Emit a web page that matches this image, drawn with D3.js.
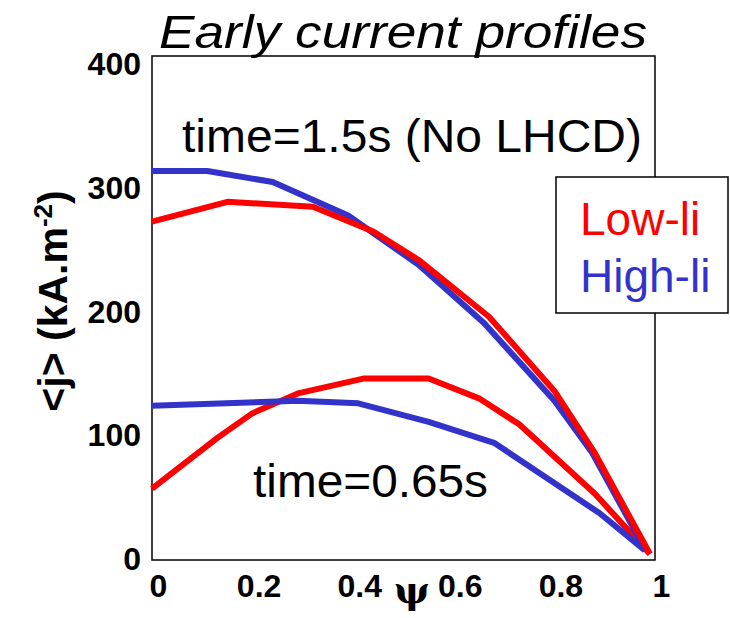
<!DOCTYPE html>
<html>
<head>
<meta charset="utf-8">
<script src="https://cdn.jsdelivr.net/npm/d3@7/dist/d3.min.js"></script>
<style>
  body { margin: 0; background: #fff; }
  svg { font-family: "Liberation Sans", Arial, sans-serif; }
</style>
</head>
<body>
<svg id="chart" width="730" height="618"></svg>
<script>
// data: psi vs <j> (kA/m^2)
const psiLow15  = [0, 0.15, 0.32, 0.44, 0.53, 0.67, 0.80, 0.88, 0.99];
const jLow15    = [273, 289, 285, 265, 242, 196, 136, 86, 4];
const psiHigh15 = [0, 0.11, 0.24, 0.39, 0.53, 0.66, 0.80, 0.875, 0.98];
const jHigh15   = [314, 314, 305, 278, 238, 191, 128, 86, 8];
const psiLow065  = [0, 0.13, 0.20, 0.29, 0.42, 0.55, 0.65, 0.73, 0.88, 0.99];
const jLow065    = [57, 98, 118, 134, 146, 146, 130, 109, 53, 4];
const psiHigh065 = [0, 0.29, 0.41, 0.55, 0.68, 0.89, 0.98];
const jHigh065   = [124, 128, 126, 111, 94, 37, 7];

const xTicks = [0, 0.2, 0.4, 0.6, 0.8, 1];
const yTicks = [0, 100, 200, 300, 400];
const legendNames = ["Low-li", "High-li"];

const RED = "#ff0000", BLUE = "#3333cc";

const svg = d3.select("#chart");
const L = 152, R = 655, T = 56, B = 559;

const x = d3.scaleLinear().domain([0, 1]).range([L, R]);
const y = d3.scaleLinear().domain([0, 407]).range([B, T]);

// frame
svg.append("rect")
  .attr("x", L).attr("y", T).attr("width", R - L).attr("height", B - T + 1)
  .attr("fill", "none").attr("stroke", "#000").attr("stroke-width", 1.5);

// lines
const line = d3.line().x(d => x(d[0])).y(d => y(d[1]));
const series = [
  [psiLow065, jLow065, RED],
  [psiHigh065, jHigh065, BLUE],
  [psiHigh15, jHigh15, BLUE],
  [psiLow15, jLow15, RED]
];
series.forEach(s => {
  svg.append("path")
    .datum(d3.zip(s[0], s[1]))
    .attr("fill", "none")
    .attr("stroke", s[2])
    .attr("stroke-width", 6)
    .attr("stroke-linejoin", "round")
    .attr("d", line);
});

// axes (labels only, no tick marks)
const yAxis = svg.append("g")
  .attr("transform", "translate(" + (L - 11) + ",0)")
  .call(d3.axisLeft(y).tickValues(yTicks).tickSize(0).tickPadding(0));
yAxis.select(".domain").remove();
yAxis.selectAll("text")
  .attr("font-family", "Liberation Sans, Arial, sans-serif")
  .attr("font-size", 32).attr("font-weight", "bold").attr("fill", "#000");

const xAxis = svg.append("g")
  .attr("transform", "translate(6," + (B + 15) + ")")
  .call(d3.axisBottom(x).tickValues(xTicks).tickFormat(d3.format("")).tickSize(0).tickPadding(0));
xAxis.select(".domain").remove();
xAxis.selectAll("text")
  .attr("font-family", "Liberation Sans, Arial, sans-serif")
  .attr("font-size", 32).attr("font-weight", "bold").attr("fill", "#000");

// psi label
svg.append("text")
  .attr("x", 412).attr("y", 603)
  .attr("text-anchor", "middle")
  .attr("font-family", "DejaVu Serif, serif")
  .attr("font-size", 38).attr("font-weight", "bold")
  .text("ψ");

// y label
const yl = svg.append("text")
  .attr("transform", "translate(67,301) rotate(-90)")
  .attr("text-anchor", "middle")
  .attr("font-size", 41).attr("font-weight", "bold");
yl.append("tspan").text("<j> (kA.m");
yl.append("tspan").attr("font-size", 26).attr("dy", -15).text("-2");
yl.append("tspan").attr("dy", 15).text(")");

// title
svg.append("text")
  .attr("x", 403).attr("y", 48)
  .attr("text-anchor", "middle")
  .attr("font-size", 47).attr("font-style", "italic")
  .attr("textLength", 488).attr("lengthAdjust", "spacingAndGlyphs")
  .text("Early current profiles");

// annotations
svg.append("text")
  .attr("x", 182).attr("y", 152)
  .attr("font-size", 46)
  .attr("textLength", 460).attr("lengthAdjust", "spacingAndGlyphs")
  .text("time=1.5s (No LHCD)");
svg.append("text")
  .attr("x", 253).attr("y", 497)
  .attr("font-size", 46)
  .attr("textLength", 235).attr("lengthAdjust", "spacingAndGlyphs")
  .text("time=0.65s");

// legend
svg.append("rect")
  .attr("x", 556).attr("y", 177).attr("width", 172).attr("height", 136)
  .attr("fill", "#fff").attr("stroke", "#000").attr("stroke-width", 1.5);
svg.selectAll(".leg").data(legendNames).enter().append("text")
  .attr("class", "leg")
  .attr("x", 580)
  .attr("y", (d, i) => 235 + i * 57)
  .attr("font-size", 46)
  .attr("fill", (d, i) => i === 0 ? RED : BLUE)
  .text(d => d);
</script>
</body>
</html>
